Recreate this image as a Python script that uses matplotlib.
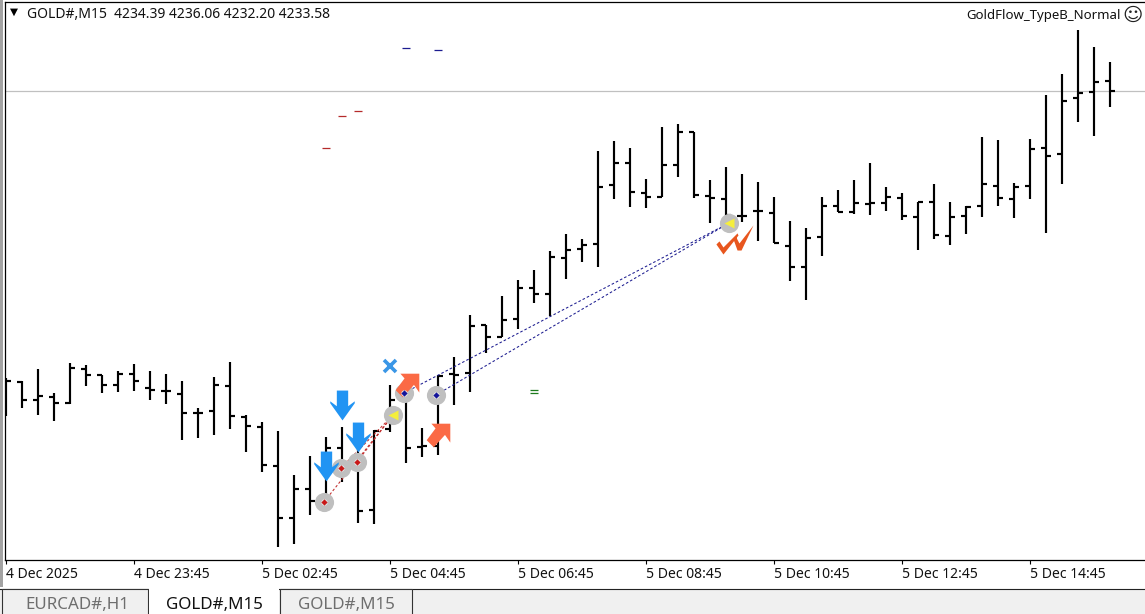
import numpy as np
import matplotlib
matplotlib.use("Agg")
import matplotlib.pyplot as plt
from matplotlib.patches import Rectangle
from matplotlib.path import Path
from matplotlib.transforms import Affine2D

# M15 bars, left to right
opens = [4207.74,4208.85,4207.32,4207.57,4207.06,4209.95,4209.44,4208.59,4209.53,4208.34,
         4208.08,4207.83,4206.21,4206.38,4208.51,4205.87,4205.02,4201.71,4197.29,4199.75,
         4198.73,4203.24,4201.88,4197.97,4204.85,4207.32,4203.32,4203.41,4209.53,4209.61,
         4213.69,4212.67,4214.20,4216.84,4216.33,4219.39,4220.15,4220.58,4225.59,4227.46,
         4224.91,4224.57,4227.29,4230.10,4224.66,4224.40,4222.96,4223.38,4223.21,4220.41,
         4218.62,4221.17,4223.81,4223.30,4223.98,4224.06,4224.49,4222.87,4224.15,4221.26,
         4222.96,4223.81,4225.51,4224.40,4225.51,4228.74,4228.23,4232.99,4233.50,4234.39]
highs = [4209.19,4208.93,4209.95,4207.91,4210.46,4210.29,4209.44,4209.78,4210.38,4209.78,
         4209.53,4208.93,4206.64,4209.27,4210.55,4206.04,4205.45,4204.68,4200.94,4202.56,
         4204.17,4205.02,4203.49,4204.77,4208.59,4207.91,4204.94,4209.44,4210.97,4214.54,
         4213.69,4216.16,4217.52,4218.37,4219.98,4221.43,4221.00,4228.48,4229.33,4228.74,
         4226.10,4230.52,4230.78,4230.10,4226.02,4227.12,4226.53,4225.85,4224.57,4222.53,
         4221.94,4224.57,4225.17,4226.02,4227.46,4225.42,4224.91,4224.15,4225.68,4224.15,
         4223.81,4229.67,4229.42,4225.76,4229.50,4233.24,4235.03,4238.77,4237.32,4236.06]
lows = [4205.96,4206.64,4206.04,4205.53,4206.98,4208.51,4207.91,4208.00,4208.08,4207.32,
        4206.98,4203.92,4204.09,4204.34,4204.85,4202.90,4201.20,4194.82,4195.08,4197.54,
        4198.22,4200.35,4196.86,4196.78,4204.60,4201.96,4202.47,4202.64,4206.89,4208.00,
        4211.31,4212.67,4213.35,4215.56,4214.46,4217.60,4219.05,4218.62,4224.40,4223.72,
        4223.64,4224.57,4226.27,4224.49,4222.36,4221.85,4222.45,4220.83,4220.66,4217.43,
        4215.82,4219.56,4223.30,4223.13,4223.04,4223.38,4222.62,4220.07,4221.00,4220.49,
        4221.43,4222.87,4223.81,4222.79,4224.40,4221.51,4225.68,4230.95,4229.76,4232.20]
closes = [4208.93,4207.32,4207.66,4207.06,4210.04,4209.44,4208.59,4209.53,4208.93,4208.17,
          4208.08,4206.21,4206.21,4208.59,4205.96,4205.11,4201.79,4197.29,4199.75,4198.73,
          4203.24,4201.88,4197.88,4204.68,4207.32,4203.24,4203.41,4209.36,4209.44,4213.61,
          4212.67,4214.12,4216.84,4216.33,4219.47,4220.07,4220.49,4225.42,4227.46,4225.00,
          4224.57,4227.29,4230.10,4224.74,4224.49,4223.04,4222.96,4223.38,4220.66,4218.62,
          4221.09,4223.81,4223.30,4224.06,4224.06,4224.57,4222.96,4224.15,4221.34,4222.87,
          4223.72,4225.68,4224.49,4225.42,4228.65,4228.06,4232.73,4233.41,4234.35,4233.58]
bid = 4233.58

tick_bars = [0, 8, 16, 24, 32, 40, 48, 56, 64]
tick_labels = ["4 Dec 2025", "4 Dec 23:45", "5 Dec 02:45", "5 Dec 04:45", "5 Dec 06:45",
               "5 Dec 08:45", "5 Dec 10:45", "5 Dec 12:45", "5 Dec 14:45"]
header = "GOLD#,M15  4234.39 4236.06 4232.20 4233.58"
ea_name = "GoldFlow_TypeB_Normal"
tab_names = ["EURCAD#,H1", "GOLD#,M15", "GOLD#,M15"]

# trade objects, (bar position, price)
sell_x = [19.875, 20.94, 21.94]
sell_y = [4198.65, 4201.54, 4202.05]
buy_x = [24.875, 26.875]
buy_y = [4207.91, 4207.74]
exit_x = [24.19, 45.19]
exit_y = [4206.04, 4222.36]
down_x = [21, 22, 20]
down_y = [4206.89, 4204.17, 4201.71]
up_x = [25.06, 27]
up_y = [4208.59, 4204.34]
cross_x = [24]
cross_y = [4210.20]
check_x = [45.5]
check_y = [4221.00]
blue_dash_x = [25, 27]
blue_dash_y = [4237.24, 4237.07]
red_dash_x = [20, 21, 22]
red_dash_y = [4228.74, 4231.46, 4231.88]
green_dash_x = [33, 33]
green_dash_y = [4208.17, 4207.91]

W, H = 1145, 614
plt.rcParams["font.family"] = ["Noto Sans", "DejaVu Sans"]

fig = plt.figure(figsize=(W / 100, H / 100), dpi=100, facecolor="white")
ax = fig.add_axes([5 / W, (H - 560) / H, (W - 5) / W, 558 / H])
ax.set_xlim(-1 / 16, (W - 6) / 16)
ax.set_ylim(4193.715, 4241.145)
ax.spines["right"].set_visible(False)
for s in ["left", "top", "bottom"]:
    ax.spines[s].set_linewidth(0.9)
ax.set_yticks([])
ax.set_xticks(tick_bars)
ax.set_xticklabels(tick_labels, ha="left", fontsize=10.05, color="#111111")
ax.tick_params(axis="x", length=3, width=0.8, pad=2)

x = np.arange(len(opens))
ax.axhline(bid, color="#c0c0c0", lw=0.9, zorder=1)
ax.vlines(x, lows, highs, color="black", lw=1.55, capstyle="butt", zorder=2)
ax.hlines(opens, x - 0.33, x, color="black", lw=1.55, capstyle="butt", zorder=2)
ax.hlines(closes, x, x + 0.33, color="black", lw=1.55, capstyle="butt", zorder=2)

# dashed trade lines
for i in range(3):
    ax.plot([sell_x[i], exit_x[0]], [sell_y[i], exit_y[0]], color="#c02a2a", lw=0.75,
            ls=(0, (2.5, 2)), zorder=4)
for i in range(2):
    ax.plot([buy_x[i], exit_x[1]], [buy_y[i], exit_y[1]], color="#1c1c90", lw=0.75,
            ls=(0, (2.5, 2)), zorder=4)

arrow_down = [(-.38, 1), (.38, 1), (.38, -.05), (.82, .28), (.82, .15), (0, -1), (-.82, .15), (-.82, .28), (-.38, -.05)]
arrow_up = [(1, 1), (-.6, 1), (-.25, .6), (-1, -.4), (-.4, -1), (.55, .05), (1, -.6)]
check_a = [(-.95, -.26), (-.79, -.1), (-.58, -.42), (.16, .32), (.21, .21), (-.58, -.79), (-.95, -.26)]
check_b = [(-.05, 0), (.1, .1), (.26, -.21), (1, .74), (.37, -.58), (.16, -.58), (-.05, 0)]
check_mark = Path.make_compound_path(Path(check_a, closed=True), Path(check_b, closed=True))

all_x = sell_x + buy_x + exit_x
all_y = sell_y + buy_y + exit_y
ax.plot(all_x, all_y, ls="none", marker="o", ms=13.8, mfc="#bfbfbf", mec="none", zorder=4)
ax.plot(up_x, up_y, ls="none", marker=arrow_up, ms=17, mfc="#fb6a45", mec="none", zorder=4.5)
ax.plot(down_x, down_y, ls="none", marker=arrow_down, ms=21.5, mfc="#2194f3", mec="none", zorder=5)
ax.plot(cross_x, cross_y, ls="none", marker="x", ms=9, mew=2.6, color="#3a96e6", zorder=5)
ax.plot(sell_x, sell_y, ls="none", marker="o", ms=4.6, mfc="#e6e6e6", mec="none", zorder=5)
ax.plot(buy_x, buy_y, ls="none", marker="o", ms=4.6, mfc="#e6e6e6", mec="none", zorder=5)
ax.plot(sell_x, sell_y, ls="none", marker="D", ms=3.2, mfc="#c81818", mec="none", zorder=6)
ax.plot(buy_x, buy_y, ls="none", marker="D", ms=3.2, mfc="#14149a", mec="none", zorder=6)
ax.plot(exit_x, exit_y, ls="none", marker="<", ms=7, mfc="#f5ee3c", mec="none", zorder=6)
ax.plot(check_x, check_y, ls="none", marker=check_mark, ms=27.4, mfc="#e8561e", mec="none", zorder=5)

ax.plot(blue_dash_x, blue_dash_y, ls="none", marker="_", ms=5.5, mew=0.9, color="#1c1c90", zorder=3)
ax.plot(red_dash_x, red_dash_y, ls="none", marker="_", ms=5.5, mew=0.9, color="#b52a2a", zorder=3)
ax.plot(green_dash_x, green_dash_y, ls="none", marker="_", ms=5.5, mew=0.9, color="#1d7a1d", zorder=3)

# header texts
px = Affine2D().scale(1, -1).translate(0, H)
fig.text(27 / W, 1 - 14.5 / H, header, fontsize=10.03, va="center", color="#111111")
fig.text(1121 / W, 1 - 15.5 / H, ea_name, fontsize=9.5, va="center", ha="right", color="#111111")
fig.text(1133 / W, 1 - 15 / H, "\u263a", fontsize=14, va="center", ha="center",
         family=["DejaVu Sans"], color="#222222")
fig.text(14 / W, 1 - 12 / H, "\u25bc", fontsize=7.5, va="center", ha="center",
         family=["DejaVu Sans"], color="black")


def box(x0, y0, x1, y1, fc, ec="none", z=1, lw=0.8):
    fig.add_artist(Rectangle((x0, y0), x1 - x0, y1 - y0, transform=px, fc=fc, ec=ec, lw=lw, zorder=z))


# window frame and tab strip
box(0, 0, 3, 587, "#a3a3a3")
box(-2, 589, W + 2, H + 2, "#f0f0f0", "#222222")
box(2, 589, 148, H + 2, "#f0f0f0", "#333333")
box(149, 587, 279, H, "white")
box(280, 589, 412, H + 2, "#f0f0f0", "#333333")
tab_centres = [77.5, 214, 346]
tab_colours = ["#6e6e6e", "#111111", "#6e6e6e"]
for name, c, col in zip(tab_names, tab_centres, tab_colours):
    fig.text(c / W, 1 - 605 / H, name, fontsize=12.2, ha="center", va="center", color=col, zorder=3)

fig.savefig("out.png", dpi=100)
